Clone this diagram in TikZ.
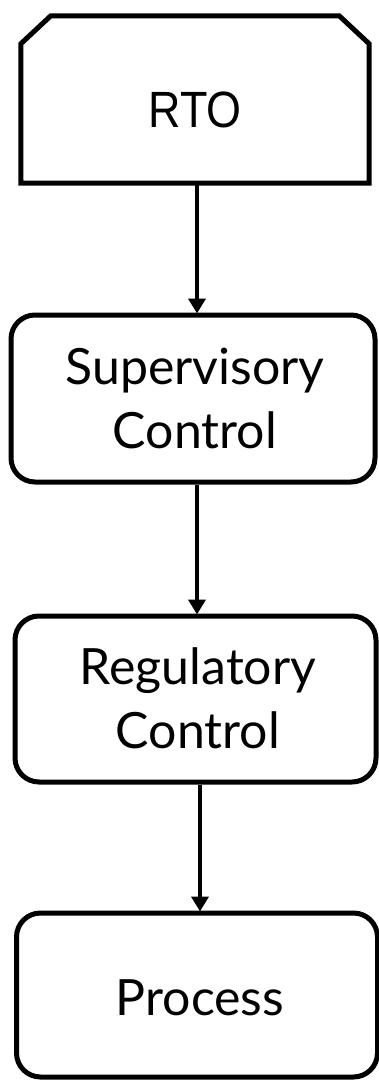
\documentclass[tikz,border=0pt]{standalone}
\usepackage{fontspec}
\setmainfont{Lato}
\newfontfamily\rtofont{Liberation Sans}[FakeStretch=0.88]
\usetikzlibrary{arrows.meta}

\tikzset{
  outline/.style={draw=black, line width=5pt, fill=white, line join=round},
  roundbox/.style={outline, rectangle, rounded corners=24pt, inner sep=0pt},
  frame/.style={rectangle, inner sep=0pt},
  label/.style={inner sep=0pt, align=center, font=\fontsize{50}{64}\selectfont},
  arr/.style={draw=black, line width=4.5pt,
    -{Triangle[length=15pt,width=17pt]}, shorten >=-1pt},
}

\begin{document}
\begin{tikzpicture}[x=1pt, y=-1pt]
  \useasboundingbox (0,0) rectangle (378,1080);

  % top layer: box with two cut upper corners
  \node[frame, minimum width=348pt, minimum height=167pt] (rto) at (195,99.5) {};
  \draw[outline, line join=miter]
    (rto.south west) -- ([yshift=-28pt]rto.north west)
    -- ([xshift=30pt]rto.north west) -- ([xshift=-30pt]rto.north east)
    -- ([yshift=-28pt]rto.north east) -- (rto.south east) -- cycle;

  % lower layers
  \node[roundbox, minimum width=364pt, minimum height=167pt] (sup) at (193,398.5) {};
  \node[roundbox, minimum width=361pt, minimum height=166pt] (reg) at (195.5,699) {};
  \node[roundbox, minimum width=361pt, minimum height=164pt] (proc) at (197,995) {};

  % labels (anchored on the baseline of the last line)
  \node[label, anchor=base, font=\rtofont\fontsize{51}{60}\selectfont] (rtotext) at (195,127.5) {RTO};
  \node[label, anchor=base] (suptext) at (195,448) {Supervisory\\Control};
  \node[label, anchor=base] (regtext) at (198,748) {Regulatory\\Control};
  \node[label, anchor=base] (proctext) at (200,1015) {Process};

  % connectors
  \draw[arr] ([xshift=2pt]rto.south) -- ([xshift=4pt]sup.north);
  \draw[arr] ([xshift=4pt]sup.south) -- ([xshift=1.5pt]reg.north);
  \draw[arr] ([xshift=4.5pt]reg.south) -- ([xshift=3pt]proc.north);
\end{tikzpicture}
\end{document}
